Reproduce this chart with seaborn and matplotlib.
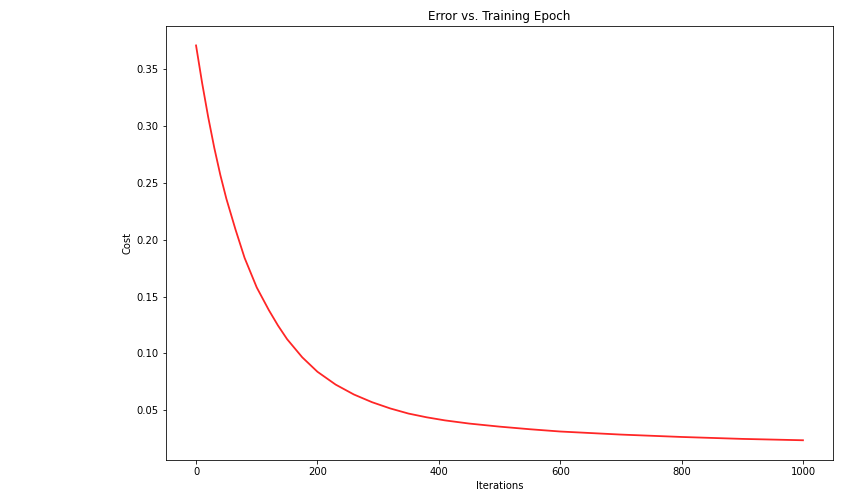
import matplotlib
matplotlib.use('Agg')
import matplotlib.pyplot as plt
import seaborn as sns
import pandas as pd

# Cost
iterations = [0, 10, 20, 30, 40, 50, 65, 80, 100, 120, 135, 150, 175, 200,
              230, 260, 290, 320, 350, 380, 410, 450, 500, 550, 600, 700,
              800, 900, 1000]
cost = [0.371, 0.338, 0.308, 0.281, 0.257, 0.236, 0.209, 0.184, 0.158,
        0.138, 0.1245, 0.1125, 0.0965, 0.0838, 0.0725, 0.0638, 0.057, 0.0515,
        0.0470, 0.0437, 0.0410, 0.0382, 0.0355, 0.0332, 0.0312, 0.0285,
        0.0264, 0.0247, 0.0235]

df = pd.DataFrame({'Iterations': iterations, 'Cost': cost})

fig = plt.figure(figsize=(863 / 72, 502 / 72), dpi=72)
ax = fig.add_axes([165.7 / 863, 1 - 460 / 502, (833.3 - 165.7) / 863, (460 - 25.7) / 502])

sns.lineplot(data=df, x='Iterations', y='Cost', color='red', alpha=0.85,
             linewidth=1.8, ax=ax)
ax.set_title('Error vs. Training Epoch')
ax.set_xlabel('Iterations')
ax.set_ylabel('Cost')
ax.set_xticks([0, 200, 400, 600, 800, 1000])
ax.set_yticks([0.05, 0.10, 0.15, 0.20, 0.25, 0.30, 0.35])

fig.savefig('out.png', dpi=72)
